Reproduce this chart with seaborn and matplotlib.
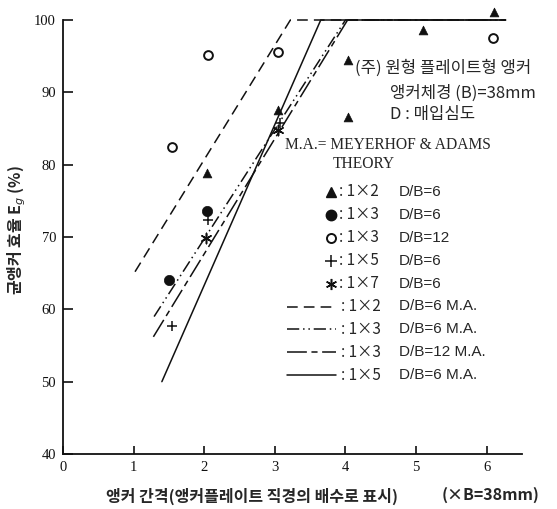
import matplotlib
matplotlib.use("Agg")
import matplotlib.pyplot as plt
import pandas as pd
import seaborn as sns

# ---- measured group efficiency E_g (%) vs anchor spacing (multiples of B) ----
tri_x = [2.04, 3.04, 4.04, 4.04, 5.10, 6.10]      # 1x2 D/B=6
tri_y = [78.8, 87.5, 94.5, 86.6, 98.6, 101.1]
dot_x = [1.50, 2.04]                              # 1x3 D/B=6
dot_y = [64.0, 73.6]
ring_x = [1.55, 2.06, 3.05, 6.09]                 # 1x3 D/B=12
ring_y = [82.4, 95.2, 95.6, 97.5]
plus_x = [1.55, 2.06, 3.08]                       # 1x5 D/B=6
plus_y = [57.7, 72.3, 85.8]
star_x = [2.03, 3.05]                             # 1x7 D/B=6
star_y = [69.8, 84.8]

# ---- Meyerhof & Adams theory, capped at 100 % ----
ma12_x = [1.02, 3.22, 6.27]
ma12_y = [65.2, 100.0, 100.0]
ma13_x = [1.29, 4.00, 6.27]
ma13_y = [59.0, 100.0, 100.0]
ma13b_x = [1.28, 4.03, 6.27]
ma13b_y = [56.2, 100.0, 100.0]
ma15_x = [1.40, 3.65, 6.27]
ma15_y = [50.0, 100.0, 100.0]

x_ticks = [0, 1, 2, 3, 4, 5, 6]
y_ticks = [40, 50, 60, 70, 80, 90, 100]

legend_rows = [
    ("▲", ": 1×2", "D/B=6"),
    ("●", ": 1×3", "D/B=6"),
    ("○", ": 1×3", "D/B=12"),
    ("+", ": 1×5", "D/B=6"),
    ("*", ": 1×7", "D/B=6"),
    ("dash", ": 1×2", "D/B=6 M.A."),
    ("dashdot", ": 1×3", "D/B=6 M.A."),
    ("longshort", ": 1×3", "D/B=12 M.A."),
    ("solid", ": 1×5", "D/B=6 M.A."),
]

sns.set_style("ticks")
plt.rcParams["font.family"] = ["Liberation Serif", "DejaVu Sans"]
KR = ["Noto Sans CJK KR", "DejaVu Sans"]
SANS = ["Liberation Sans", "DejaVu Sans"]

W, H = 557, 509
fig = plt.figure(figsize=(W / 100, H / 100), dpi=100)
ax = fig.add_axes([63 / W, 1 - 454 / H, (522 - 63) / W, (454 - 20) / H])

ink = "#111111"
styles = {
    "dash": (0, (7, 4)),
    "dashdot": (0, (8, 2.5, 1, 2.5, 1, 2.5)),
    "longshort": (0, (13, 3, 4, 3)),
    "solid": "-",
}

line_sets = [
    (ma12_x, ma12_y, "dash"),
    (ma13_x, ma13_y, "dashdot"),
    (ma13b_x, ma13b_y, "longshort"),
    (ma15_x, ma15_y, "solid"),
]
for xs, ys, st in line_sets:
    df = pd.DataFrame({"x": xs, "y": ys})
    sns.lineplot(data=df, x="x", y="y", ax=ax, color=ink, lw=1.1,
                 linestyle=styles[st], sort=False, estimator=None,
                 clip_on=False)

def scatter(xs, ys, **kw):
    df = pd.DataFrame({"x": xs, "y": ys})
    sns.scatterplot(data=df, x="x", y="y", ax=ax, clip_on=False, zorder=5, **kw)

scatter(tri_x, tri_y, marker="^", s=40, color=ink, edgecolor=ink, linewidth=0.5)
scatter(dot_x, dot_y, marker="o", s=55, color=ink, edgecolor=ink, linewidth=0.5)
scatter(ring_x, ring_y, marker="o", s=40, facecolor="white", edgecolor=ink, linewidth=1.4)
scatter(plus_x, plus_y, marker="+", s=60, color=ink, linewidth=1.1)
scatter(star_x, star_y, marker=(6, 2, 0), s=55, color=ink, linewidth=1.1)

ax.set_xlim(0, 6.5)
ax.set_ylim(40, 100)
ax.set_xticks(x_ticks)
ax.set_yticks(y_ticks)
ax.set_xticklabels([str(t) for t in x_ticks], fontsize=10.5)
ax.set_yticklabels([str(t) for t in y_ticks], fontsize=10.5)
ax.tick_params(axis="y", direction="in", length=7, width=1.2, pad=5, colors=ink)
ax.tick_params(axis="x", direction="in", length=6, width=1.2, pad=5, colors=ink)
for s in ("top", "right"):
    ax.spines[s].set_visible(False)
for s in ("left", "bottom"):
    ax.spines[s].set_linewidth(1.3)
    ax.spines[s].set_color(ink)
ax.set_xlabel("")
ax.set_ylabel("")

# axis titles
fig.text(252 / W, 1 - 496 / H, "앵커 간격(앵커플레이트 직경의 배수로 표시)",
         family=KR, fontweight="bold", fontsize=11.5, ha="center", va="center")
fig.text(491 / W, 1 - 495 / H, "(×B=38mm)", family=KR, fontweight="bold",
         fontsize=11.5, ha="center", va="center")
fig.text(17 / W, 1 - 230 / H, "균앵커 효율 E$_g$ (%)", family=KR, fontweight="bold",
         fontsize=11.5, ha="center", va="center", rotation=90)

# annotation block
fig.text(355 / W, 1 - 68 / H, "(주) 원형 플레이트형 앵커", family=KR, fontsize=12,
         ha="left", va="center")
fig.text(390 / W, 1 - 93 / H, "앵커체경 (B)=38mm", family=KR, fontsize=12,
         ha="left", va="center")
fig.text(390 / W, 1 - 114 / H, "D : 매입심도", family=KR, fontsize=12,
         ha="left", va="center")
fig.text(285 / W, 1 - 145 / H, "M.A.= MEYERHOF & ADAMS", fontsize=11.2,
         ha="left", va="center")
fig.text(333 / W, 1 - 164 / H, "THEORY", fontsize=11.2, ha="left", va="center")

# legend, drawn on an overlay in pixel units
ov = fig.add_axes([0, 0, 1, 1], zorder=10)
ov.set_xlim(0, W)
ov.set_ylim(H, 0)
ov.axis("off")
marker_spec = {
    "▲": dict(marker="^", ms=6.5, mfc=ink, mec=ink),
    "●": dict(marker="o", ms=7.5, mfc=ink, mec=ink),
    "○": dict(marker="o", ms=6.5, mfc="white", mec=ink, mew=1.4),
    "+": dict(marker="+", ms=8, mec=ink, mew=1.1),
    "*": dict(marker=(6, 2, 0), ms=8, mec=ink, mew=1.1),
}
for i, (sym, grp, depth) in enumerate(legend_rows):
    yy = 192 + 22.9 * i
    if sym in marker_spec:
        ov.plot([331], [yy], ls="none", **marker_spec[sym])
        xg = 339
    else:
        ov.plot([287, 336], [yy, yy], color=ink, lw=1.1, linestyle=styles[sym])
        xg = 341
    ov.text(xg, yy, grp, family=KR, fontsize=11, ha="left", va="center")
    ov.text(399, yy, depth, family=SANS, fontsize=11, ha="left", va="center")

fig.savefig("out.png", dpi=100)
